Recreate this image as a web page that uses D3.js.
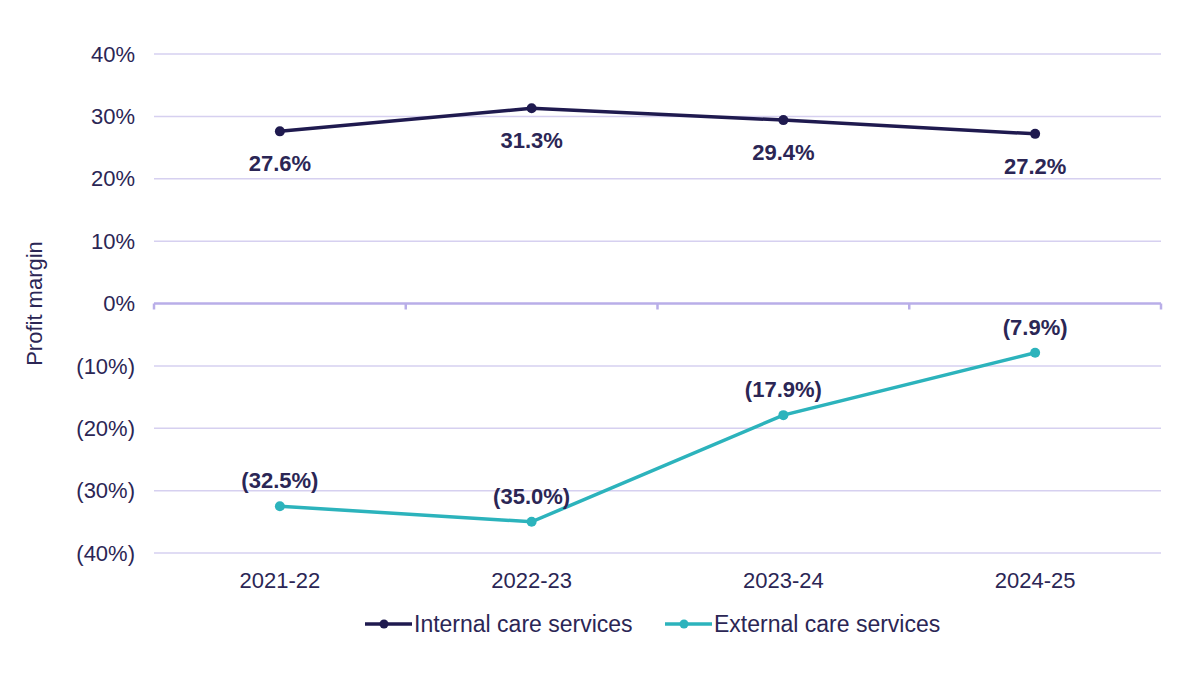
<!DOCTYPE html>
<html>
<head>
<meta charset="utf-8">
<script src="https://cdn.jsdelivr.net/npm/d3@7"></script>
<style>
  body { margin: 0; background: #fff; }
  svg text { font-family: "Liberation Sans", Arial, sans-serif; }
</style>
</head>
<body>
<svg id="chart" width="1193" height="677"></svg>
<script>
var years = ["2021-22", "2022-23", "2023-24", "2024-25"];
var internal = [27.6, 31.3, 29.4, 27.2];
var external = [-32.5, -35.0, -17.9, -7.9];
var yTicks = [40, 30, 20, 10, 0, -10, -20, -30, -40];
var seriesNames = ["Internal care services", "External care services"];

var navy = "#1f1a4f", teal = "#2cb3bc", grid = "#d6d0f0", axisCol = "#b9aee8", textCol = "#2b2655";

var svg = d3.select("#chart");
var plotL = 154, plotR = 1161, plotT = 54, plotB = 553;

var x = d3.scaleBand().domain(years).range([plotL, plotR]);
var y = d3.scaleLinear().domain([-40, 40]).range([plotB, plotT]);

var fmt = function(v){
    var s = Math.abs(v).toFixed(1) + "%";
    return v < 0 ? "(" + s + ")" : s;
};
var tickFmt = function(v){
    return v < 0 ? "(" + Math.abs(v) + "%)" : v + "%";
};

// gridlines
svg.append("g").selectAll("line").data(yTicks.filter(function(d){ return d != 0; }))
    .join("line")
    .attr("x1", plotL).attr("x2", plotR)
    .attr("y1", function(d){ return y(d); }).attr("y2", function(d){ return y(d); })
    .attr("stroke", grid).attr("stroke-width", 1.5);

// y labels
svg.append("g").selectAll("text").data(yTicks)
    .join("text")
    .attr("x", 135).attr("y", function(d){ return y(d); })
    .attr("dy", "0.35em")
    .attr("text-anchor", "end")
    .attr("font-size", 22)
    .attr("fill", textCol)
    .text(tickFmt);

// zero axis with category ticks
var zero = svg.append("g").attr("transform", "translate(0," + y(0) + ")");
zero.append("line").attr("x1", plotL).attr("x2", plotR)
    .attr("stroke", axisCol).attr("stroke-width", 2.5);
var bounds = [plotL].concat(years.map(function(d){ return x(d) + x.bandwidth(); }));
zero.selectAll("line.tk").data(bounds).join("line").attr("class", "tk")
    .attr("x1", function(d){ return d; }).attr("x2", function(d){ return d; })
    .attr("y1", 0).attr("y2", 6)
    .attr("stroke", axisCol).attr("stroke-width", 2.5);

// category labels
svg.append("g").selectAll("text").data(years)
    .join("text")
    .attr("x", function(d){ return x(d) + x.bandwidth()/2; })
    .attr("y", 588)
    .attr("text-anchor", "middle")
    .attr("font-size", 22)
    .attr("fill", textCol)
    .text(function(d){ return d; });

// y title
svg.append("text")
    .attr("transform", "translate(42," + y(0) + ") rotate(-90)")
    .attr("text-anchor", "middle")
    .attr("font-size", 22)
    .attr("fill", textCol)
    .text("Profit margin");

var line = d3.line()
    .x(function(d, i){ return x(years[i]) + x.bandwidth()/2; })
    .y(function(d){ return y(d); });

var drawSeries = function(vals, color, labelDy){
    var g = svg.append("g");
    g.append("path").attr("d", line(vals))
        .attr("fill", "none").attr("stroke", color).attr("stroke-width", 3.5);
    g.selectAll("circle").data(vals).join("circle")
        .attr("cx", function(d, i){ return x(years[i]) + x.bandwidth()/2; })
        .attr("cy", function(d){ return y(d); })
        .attr("r", 5).attr("fill", color);
    g.selectAll("text").data(vals).join("text")
        .attr("x", function(d, i){ return x(years[i]) + x.bandwidth()/2; })
        .attr("y", function(d){ return y(d) + labelDy; })
        .attr("text-anchor", "middle")
        .attr("font-size", 22).attr("font-weight", "bold")
        .attr("fill", textCol)
        .text(fmt);
};
drawSeries(internal, navy, 40);
drawSeries(external, teal, -18);

// legend
var legend = svg.append("g").attr("transform", "translate(0,624)");
var legX = [365, 665];
[navy, teal].forEach(function(c, i){
    var lg = legend.append("g").attr("transform", "translate(" + legX[i] + ",0)");
    lg.append("line").attr("x1", 0).attr("x2", 47).attr("stroke", c).attr("stroke-width", 3.5);
    lg.append("circle").attr("cx", 19).attr("r", 4.5).attr("fill", c);
    lg.append("text").attr("x", 49).attr("dy", "0.35em")
        .attr("font-size", 23).attr("fill", textCol)
        .text(seriesNames[i]);
});
</script>
</body>
</html>
